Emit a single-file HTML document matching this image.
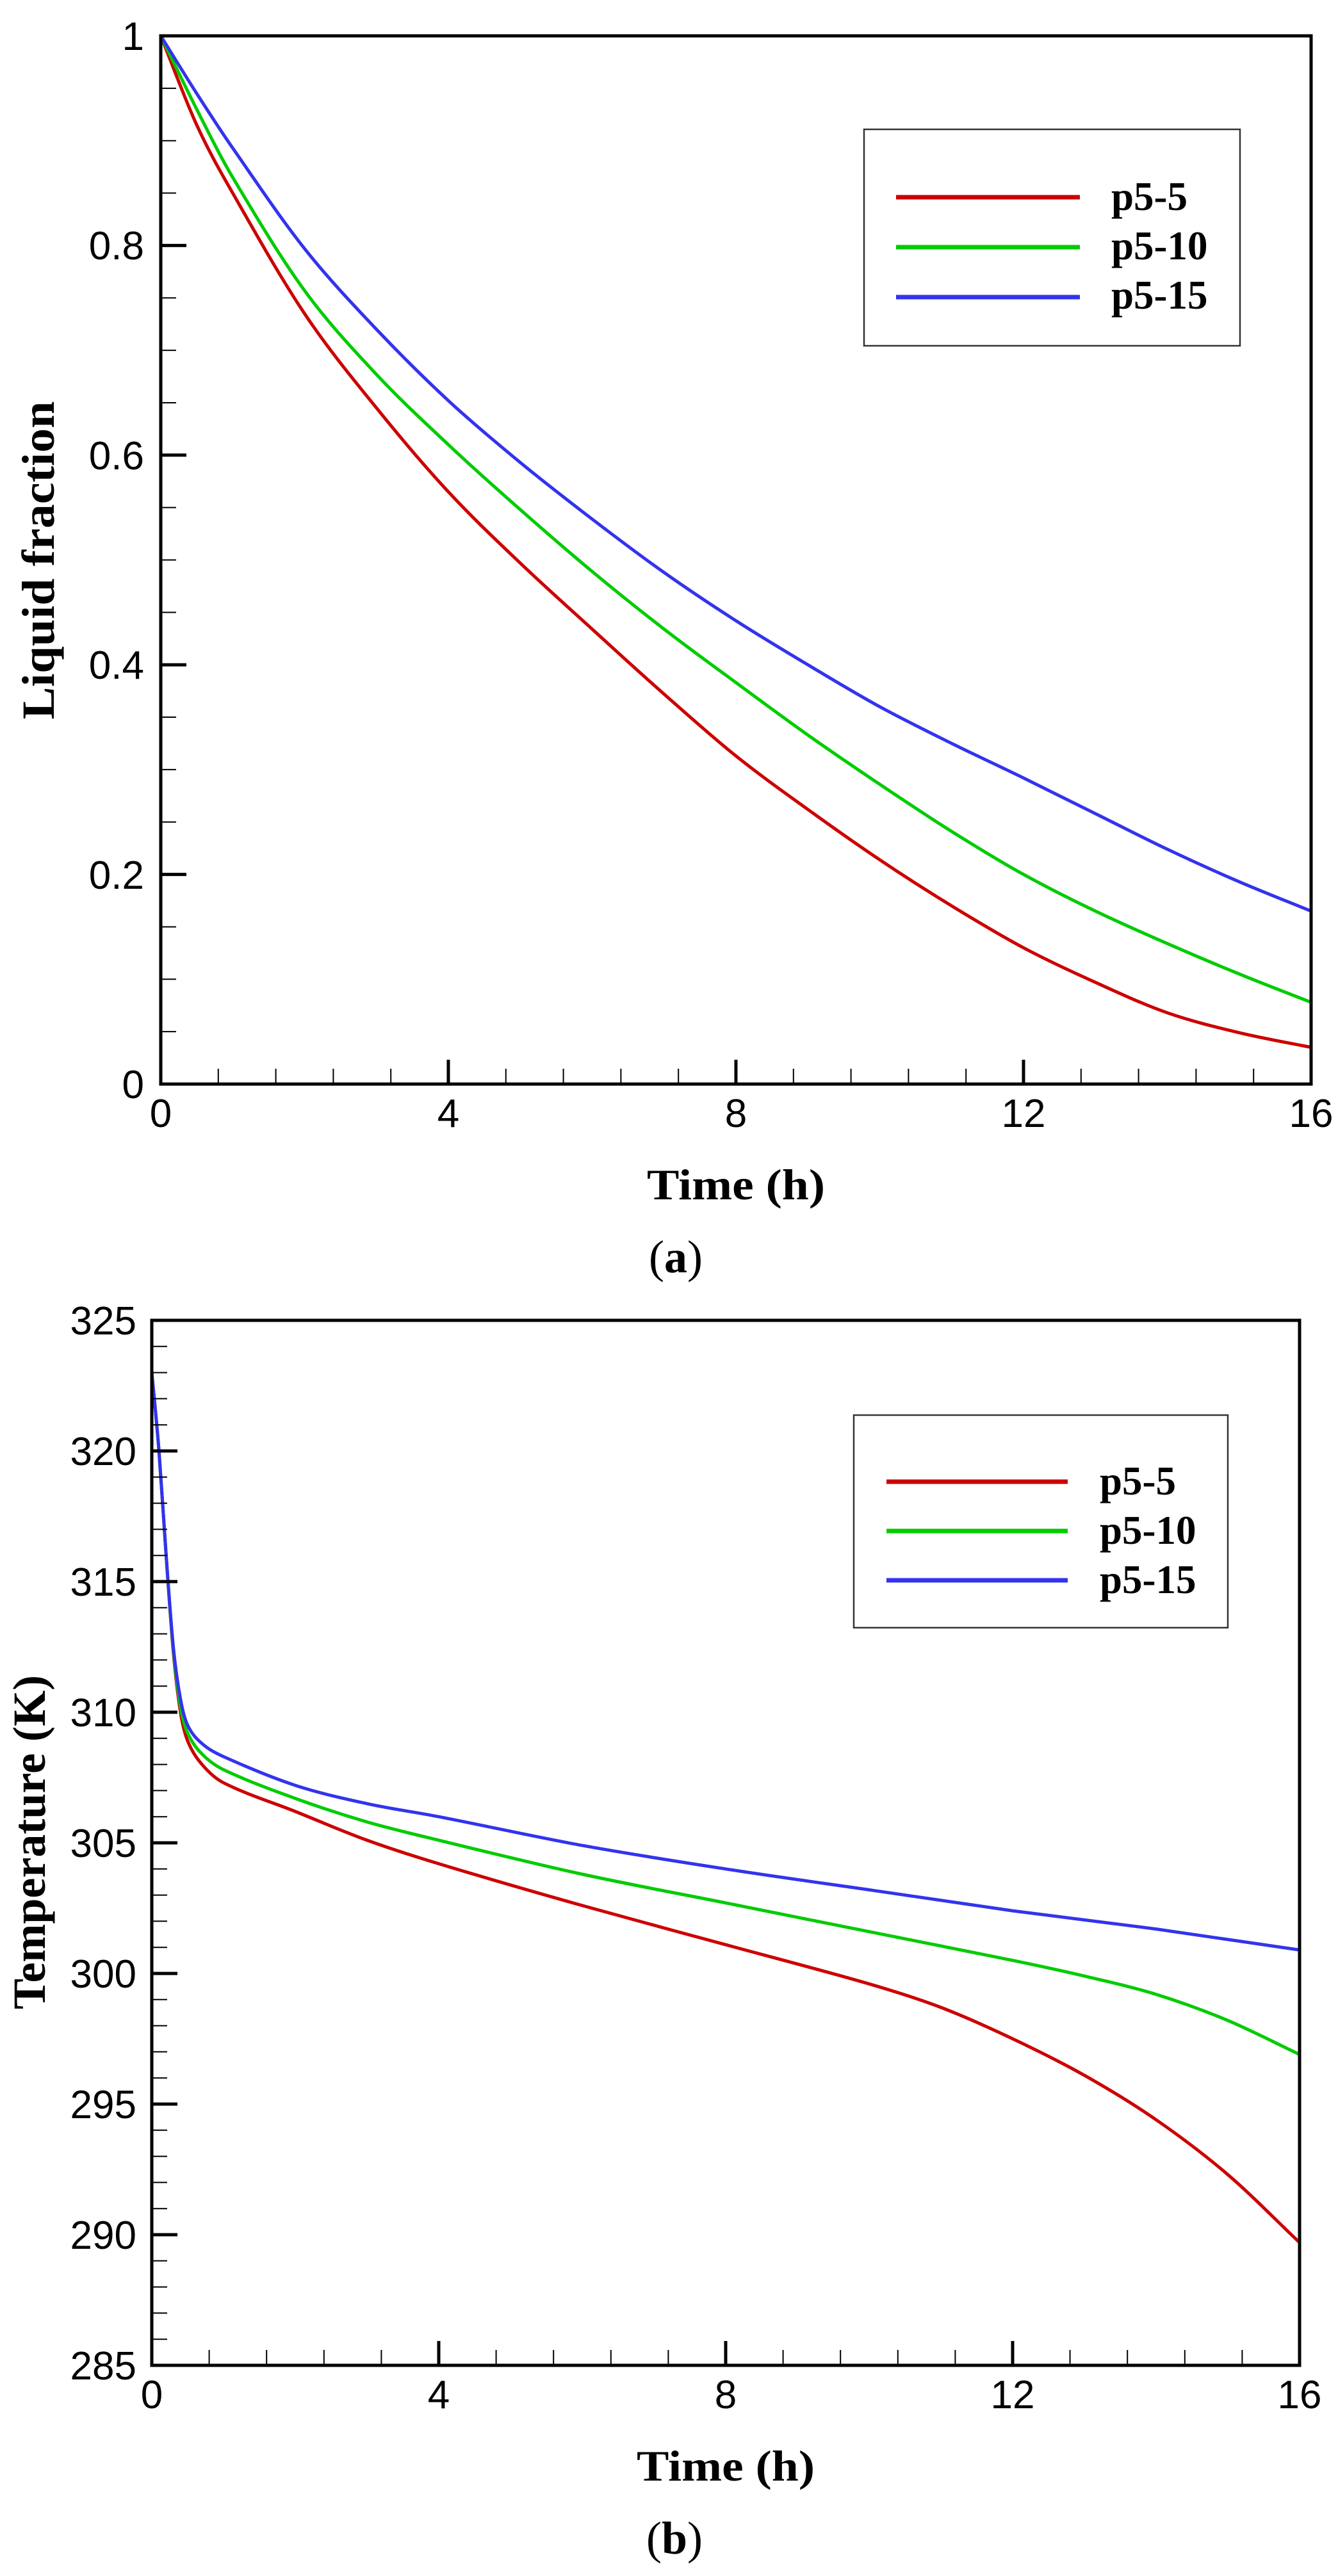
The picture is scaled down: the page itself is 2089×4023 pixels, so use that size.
<!DOCTYPE html>
<html><head><meta charset="utf-8"><style>
html,body{margin:0;padding:0;background:#fff;}
svg{display:block;}
.t{font-family:"Liberation Sans",sans-serif;font-size:62px;fill:#000;}
.b{font-family:"Liberation Serif",serif;font-weight:bold;fill:#000;}
</style></head><body>
<svg id="s" width="2089" height="4023" xmlns="http://www.w3.org/2000/svg">
<rect width="2089" height="4023" fill="#fff"/>
<g id="ga"></g>
<g id="gb"></g>
<g class="t" text-anchor="end">
<text x="225" y="78">1</text>
<text x="225" y="405">0.8</text>
<text x="225" y="733">0.6</text>
<text x="225" y="1060">0.4</text>
<text x="225" y="1388">0.2</text>
<text x="225" y="1715">0</text>
</g>
<g class="t" text-anchor="middle">
<text x="251" y="1760">0</text>
<text x="700" y="1760">4</text>
<text x="1149" y="1760">8</text>
<text x="1598" y="1760">12</text>
<text x="2047" y="1760">16</text>
</g>
<text class="b" x="1149" y="1873" font-size="68" text-anchor="middle" textLength="278" lengthAdjust="spacingAndGlyphs">Time (h)</text>
<text class="b" x="84" y="875" font-size="72" text-anchor="middle" transform="rotate(-90 84 875)" textLength="497" lengthAdjust="spacingAndGlyphs">Liquid fraction</text>
<text x="1055" y="1987" font-family="Liberation Serif,serif" font-size="72" text-anchor="middle">(<tspan font-weight="bold">a</tspan>)</text>
<rect x="1349" y="202" width="587" height="338" fill="#fff" stroke="#333" stroke-width="2.5"/>
<line x1="1399" y1="308" x2="1686" y2="308" stroke="#cc0000" stroke-width="7"/>
<line x1="1399" y1="386" x2="1686" y2="386" stroke="#00cc00" stroke-width="7"/>
<line x1="1399" y1="464" x2="1686" y2="464" stroke="#3333ee" stroke-width="7"/>
<g class="b" font-size="63">
<text x="1735" y="328">p5-5</text>
<text x="1735" y="405">p5-10</text>
<text x="1735" y="482">p5-15</text>
</g>
<g class="t" text-anchor="end">
<text x="213" y="2084">325</text>
<text x="213" y="2288">320</text>
<text x="213" y="2492">315</text>
<text x="213" y="2696">310</text>
<text x="213" y="2900">305</text>
<text x="213" y="3104">300</text>
<text x="213" y="3308">295</text>
<text x="213" y="3512">290</text>
<text x="213" y="3716">285</text>
</g>
<g class="t" text-anchor="middle">
<text x="237" y="3761">0</text>
<text x="685" y="3761">4</text>
<text x="1133" y="3761">8</text>
<text x="1581" y="3761">12</text>
<text x="2029" y="3761">16</text>
</g>
<text class="b" x="1133" y="3874" font-size="68" text-anchor="middle" textLength="278" lengthAdjust="spacingAndGlyphs">Time (h)</text>
<text class="b" x="70" y="2877" font-size="72" text-anchor="middle" transform="rotate(-90 70 2877)">Temperature (K)</text>
<text x="1053" y="3988" font-family="Liberation Serif,serif" font-size="72" text-anchor="middle">(<tspan font-weight="bold">b</tspan>)</text>
<rect x="1333" y="2210" width="584" height="332" fill="#fff" stroke="#333" stroke-width="2.5"/>
<line x1="1384" y1="2314" x2="1667" y2="2314" stroke="#cc0000" stroke-width="7"/>
<line x1="1384" y1="2391" x2="1667" y2="2391" stroke="#00cc00" stroke-width="7"/>
<line x1="1384" y1="2468" x2="1667" y2="2468" stroke="#3333ee" stroke-width="7"/>
<g class="b" font-size="63">
<text x="1717" y="2334">p5-5</text>
<text x="1717" y="2411">p5-10</text>
<text x="1717" y="2488">p5-15</text>
</g>
</svg>
<script>
var NS="http://www.w3.org/2000/svg";
function el(g,n,a){var e=document.createElementNS(NS,n);for(var k in a)e.setAttribute(k,a[k]);g.appendChild(e);return e;}
function path(pts){
 var d="M"+pts[0][0].toFixed(1)+","+pts[0][1].toFixed(1);
 for(var i=0;i<pts.length-1;i++){
  var p0=pts[Math.max(0,i-1)],p1=pts[i],p2=pts[i+1],p3=pts[Math.min(pts.length-1,i+2)];
  var h=p2[0]-p1[0];
  var m1=(p2[1]-p0[1])/(p2[0]-p0[0]||1), m2=(p3[1]-p1[1])/(p3[0]-p1[0]||1);
  var c1=[p1[0]+h/3,p1[1]+m1*h/3];
  var c2=[p2[0]-h/3,p2[1]-m2*h/3];
  d+=" C"+c1[0].toFixed(1)+","+c1[1].toFixed(1)+" "+c2[0].toFixed(1)+","+c2[1].toFixed(1)+" "+p2[0].toFixed(1)+","+p2[1].toFixed(1);
 }
 return d;
}
function panel(g,L,R,T,B,xmax,ymin,ymax,ymaj,ymin_step,series){
 var sx=function(x){return L+(x/xmax)*(R-L);},sy=function(y){return B-(y-ymin)/(ymax-ymin)*(B-T);};
 series.forEach(function(s){
  var pts=s.d.map(function(p){return [sx(p[0]),sy(p[1])];});
  el(g,"path",{d:path(pts),fill:"none",stroke:s.c,"stroke-width":5});
 });
 for(var i=0;i<=20;i++){var x=i*0.8;var X=sx(x);var maj=(i%5==0);el(g,"line",{x1:X,y1:B,x2:X,y2:B-(maj?38:24),stroke:"#000","stroke-width":maj?5:2});}
 var n=Math.round((ymax-ymin)/ymin_step);var per=Math.round(ymaj/ymin_step);
 for(var i=0;i<=n;i++){var v=ymin+i*ymin_step;var Y=sy(v);var maj=(i%per==0);el(g,"line",{x1:L,y1:Y,x2:L+(maj?40:24),y2:Y,stroke:"#000","stroke-width":maj?5:2});}
 el(g,"rect",{x:L,y:T,width:R-L,height:B-T,fill:"none",stroke:"#000","stroke-width":5});
}
function mk(arr){var r=[[0,arr[0]],[0.5,arr[1]]];for(var i=2;i<arr.length;i++)r.push([i-1,arr[i]]);return r;}
panel(document.getElementById("ga"),251,2047,56,1693,16,0,1,0.2,0.05,[
 {c:"#cc0000",d:mk([1,0.915,0.85,0.735,0.645,0.565,0.497,0.434,0.372,0.313,0.262,0.214,0.17,0.13,0.097,0.068,0.049,0.035])},
 {c:"#00cc00",d:mk([1,0.93,0.865,0.757,0.677,0.61,0.548,0.489,0.434,0.383,0.333,0.286,0.241,0.2,0.165,0.134,0.105,0.078])},
 {c:"#3333ee",d:mk([1,0.945,0.893,0.797,0.72,0.652,0.593,0.539,0.488,0.442,0.4,0.36,0.325,0.292,0.258,0.224,0.193,0.165])}
]);
panel(document.getElementById("gb"),237,2029,2062,3694,16,285,325,5,1,[
 {c:"#cc0000",d:[[0,323],[0.1,320],[0.2,316],[0.3,312.3],[0.4,310],[0.5,308.9],[0.7,308],[1,307.3],[2,306.2],[3,305.1],[4,304.2],[6,302.6],[8,301.1],[10,299.6],[11,298.7],[12,297.5],[13,296.1],[14,294.4],[15,292.3],[16,289.7]]},
 {c:"#00cc00",d:[[0,323],[0.1,320],[0.2,316],[0.3,312.4],[0.4,310.2],[0.5,309.2],[0.7,308.4],[1,307.8],[2,306.7],[3,305.8],[4,305.1],[6,303.8],[8,302.7],[10,301.6],[12,300.5],[13,299.9],[14,299.2],[15,298.2],[16,296.9]]},
 {c:"#3333ee",d:[[0,323],[0.1,320],[0.2,316],[0.3,312.5],[0.4,310.5],[0.5,309.5],[0.7,308.8],[1,308.3],[2,307.2],[3,306.5],[4,306],[6,304.9],[8,304],[10,303.2],[12,302.4],[14,301.7],[16,300.9]]}
]);
</script>
</body></html>
